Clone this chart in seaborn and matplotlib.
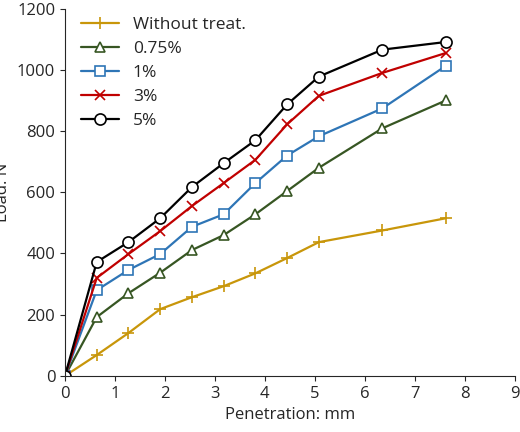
import matplotlib
matplotlib.use('Agg')
import matplotlib.pyplot as plt
import seaborn as sns
import pandas as pd

sns.set_style('ticks')
plt.rcParams['font.family'] = ['Open Sans', 'DejaVu Sans']

penetration = [0, 0.635, 1.27, 1.905, 2.54, 3.175, 3.81, 4.445, 5.08, 6.35, 7.62]
without_treat = [0, 68, 140, 218, 257, 293, 335, 385, 437, 475, 515]
p075 = [0, 192, 270, 337, 411, 460, 528, 604, 680, 809, 900]
p1 = [0, 280, 346, 398, 487, 528, 630, 720, 783, 874, 1013]
p3 = [0, 320, 398, 473, 555, 630, 706, 822, 915, 990, 1055]
p5 = [0, 372, 437, 515, 617, 695, 770, 887, 978, 1066, 1091]

series = {'Without treat.': without_treat, '0.75%': p075, '1%': p1, '3%': p3, '5%': p5}
styles = {'Without treat.': ('#c8960a', '+', 9),
          '0.75%': ('#375623', '^', 7),
          '1%': ('#2e75b6', 's', 7),
          '3%': ('#c00000', 'x', 7),
          '5%': ('#000000', 'o', 8)}

rows = []
for name, vals in series.items():
    for x, y in zip(penetration, vals):
        rows.append({'Penetration': x, 'Load': y, 'Series': name})
df = pd.DataFrame(rows)

fig, ax = plt.subplots(figsize=(5.2, 4.32), dpi=100)
for name in series:
    color, marker, ms = styles[name]
    sub = df[df['Series'] == name]
    sns.lineplot(data=sub, x='Penetration', y='Load', ax=ax, color=color, marker=marker,
                 markersize=ms, markerfacecolor='white' if marker not in '+x' else color,
                 markeredgecolor=color, markeredgewidth=1.2, linewidth=1.6, label=name)

ax.set_xlim(0, 9)
ax.set_ylim(0, 1200)
ax.set_xticks(range(0, 10))
ax.set_yticks(range(0, 1201, 200))
ax.set_xlabel('Penetration: mm', fontsize=12)
ax.set_ylabel('Load: N', fontsize=12)
ax.tick_params(labelsize=12, direction='out')
sns.despine(ax=ax)
ax.legend(loc='upper left', frameon=False, fontsize=12.5, handlelength=2.2,
          bbox_to_anchor=(0.0, 1.02), labelspacing=0.45)
fig.subplots_adjust(left=0.125, right=0.99, bottom=0.13, top=0.98)
fig.savefig('out.png', dpi=100)
